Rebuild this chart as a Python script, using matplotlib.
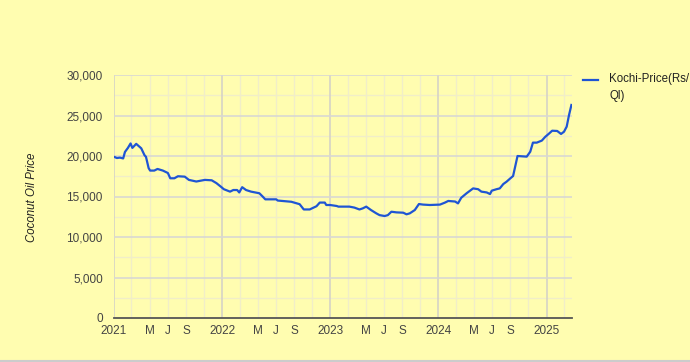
from datetime import date

import matplotlib
matplotlib.use("Agg")
import matplotlib.dates as mdates
import matplotlib.pyplot as plt
from matplotlib.lines import Line2D

# Weekly-ish Kochi coconut oil price (Rs/Ql).
price_dates = [
    "2021-01-01", "2021-01-11", "2021-01-21", "2021-02-01", "2021-02-07",
    "2021-02-17", "2021-02-26", "2021-03-04", "2021-03-17", "2021-04-03",
    "2021-04-14", "2021-04-19", "2021-04-28", "2021-05-03", "2021-05-17",
    "2021-05-28", "2021-06-15", "2021-07-02", "2021-07-10", "2021-07-24",
    "2021-08-05", "2021-08-28", "2021-09-11", "2021-10-06", "2021-11-04",
    "2021-11-27", "2021-12-13", "2021-12-30", "2022-01-07", "2022-01-28",
    "2022-02-08", "2022-02-21", "2022-02-28", "2022-03-10", "2022-03-23",
    "2022-04-09", "2022-05-07", "2022-05-18", "2022-05-27", "2022-07-03",
    "2022-07-08", "2022-08-23", "2022-09-20", "2022-10-04", "2022-10-24",
    "2022-11-16", "2022-11-27", "2022-12-14", "2022-12-19", "2023-01-01",
    "2023-01-23", "2023-01-29", "2023-03-07", "2023-03-24", "2023-04-10",
    "2023-04-21", "2023-05-03", "2023-05-19", "2023-06-06", "2023-06-17",
    "2023-07-04", "2023-07-15", "2023-07-27", "2023-08-13", "2023-09-05",
    "2023-09-16", "2023-09-27", "2023-10-14", "2023-10-28", "2023-11-11",
    "2023-12-04", "2024-01-07", "2024-01-24", "2024-02-04", "2024-02-27",
    "2024-03-08", "2024-03-19", "2024-04-06", "2024-04-28", "2024-05-15",
    "2024-05-26", "2024-06-13", "2024-06-24", "2024-06-30", "2024-07-16",
    "2024-07-27", "2024-08-08", "2024-08-19", "2024-09-01", "2024-09-10",
    "2024-09-17", "2024-09-25", "2024-10-26", "2024-11-07", "2024-11-16",
    "2024-11-29", "2024-12-16", "2024-12-28", "2025-01-08", "2025-01-20",
    "2025-02-06", "2025-02-19", "2025-03-01", "2025-03-10", "2025-03-18",
    "2025-03-26",
]
price_values = [
    19900, 19750, 19800, 19700, 20500,
    21000, 21550, 21000, 21500, 20950,
    20100, 19900, 18500, 18200, 18200,
    18400, 18200, 17900, 17250, 17250,
    17500, 17450, 17050, 16850, 17050,
    17000, 16650, 16150, 15900, 15600,
    15800, 15800, 15500, 16150, 15800,
    15600, 15400, 15000, 14650, 14650,
    14500, 14350, 14050, 13400, 13400,
    13800, 14250, 14250, 13950, 13950,
    13830, 13750, 13750, 13630, 13400,
    13530, 13750, 13330, 12920, 12700,
    12590, 12700, 13120, 13040, 13000,
    12800, 12920, 13330, 14070, 14000,
    13950, 14000, 14250, 14450, 14380,
    14150, 14850, 15400, 16000, 15900,
    15600, 15500, 15300, 15720, 15900,
    16000, 16540, 16830, 17250, 17530,
    18680, 20000, 19920, 20530, 21650,
    21650, 21900, 22380, 22720, 23120,
    23090, 22720, 23000, 23620, 25060,
    26300,
]

y_ticks = [0, 5000, 10000, 15000, 20000, 25000, 30000]
years = [2021, 2022, 2023, 2024, 2025]
month_labels = {5: "M", 7: "J", 9: "S"}

bg = "#fffdb0"
line_color = "#1f55d4"
font = "Liberation Sans"

fig = plt.figure(figsize=(6.9, 3.62), dpi=100)
fig.patch.set_facecolor(bg)
ax = fig.add_axes([114 / 690, 1 - 318 / 362, 458 / 690, 243 / 362])
ax.set_facecolor(bg)

x_start = date(2021, 1, 1)
x_end = date(2025, 3, 28)

# gridlines: every 2 months / 2,500 light, years / 5,000 darker
for yr in years:
    for m in (1, 3, 5, 7, 9, 11):
        d = date(yr, m, 1)
        if d > x_end:
            continue
        if m == 1:
            ax.axvline(d, color="#d6d3c6", lw=1.2, zorder=1)
        else:
            ax.axvline(d, color="#f1eec8", lw=1.0, zorder=0.5)
for v in range(2500, 30001, 2500):
    if v % 5000 == 0:
        ax.axhline(v, color="#d9d8d2", lw=1.2, zorder=1)
    else:
        ax.axhline(v, color="#f1eec8", lw=1.0, zorder=0.5)

xs = [date.fromisoformat(s) for s in price_dates]
ax.plot(xs, price_values, color=line_color, lw=1.6, zorder=3)

ax.set_xlim(x_start, x_end)
ax.set_ylim(0, 30000)

tick_dates, tick_text = [], []
for yr in years:
    tick_dates.append(date(yr, 1, 1))
    tick_text.append(str(yr))
    for m, lab in month_labels.items():
        d = date(yr, m, 1)
        if d <= x_end:
            tick_dates.append(d)
            tick_text.append(lab)
ax.set_xticks([mdates.date2num(d) for d in tick_dates])
ax.set_xticklabels(tick_text)
ax.set_yticks(y_ticks)
ax.set_yticklabels([f"{v:,}" for v in y_ticks])
ax.tick_params(axis="both", length=0, labelsize=8.5, colors="#444444",
               labelfontfamily=font)
ax.tick_params(axis="x", pad=5)
ax.tick_params(axis="y", pad=8)

for side in ("left", "right", "top"):
    ax.spines[side].set_visible(False)
ax.spines["bottom"].set_color("#555555")
ax.spines["bottom"].set_linewidth(1.3)
ax.spines["bottom"].set_zorder(4)

fig.text(32 / 690, 1 - 197 / 362, "Coconut Oil Price", rotation=90,
         ha="center", va="center", fontsize=8.3, style="italic",
         color="#222222", family=font)

# legend, drawn by hand to match the wrapped label
fig.add_artist(Line2D([583 / 690, 598 / 690], [1 - 80 / 362, 1 - 80 / 362],
                      color=line_color, lw=1.6))
fig.text(609 / 690, 1 - 73 / 362, "Kochi-Price(Rs/\nQl)", ha="left", va="top",
         fontsize=8.3, color="#222222", family=font, linespacing=1.55)

fig.add_artist(Line2D([0, 1], [1.5 / 362, 1.5 / 362], color="#cccccc", lw=1.5))

fig.savefig("out.png", dpi=100, facecolor=bg)
